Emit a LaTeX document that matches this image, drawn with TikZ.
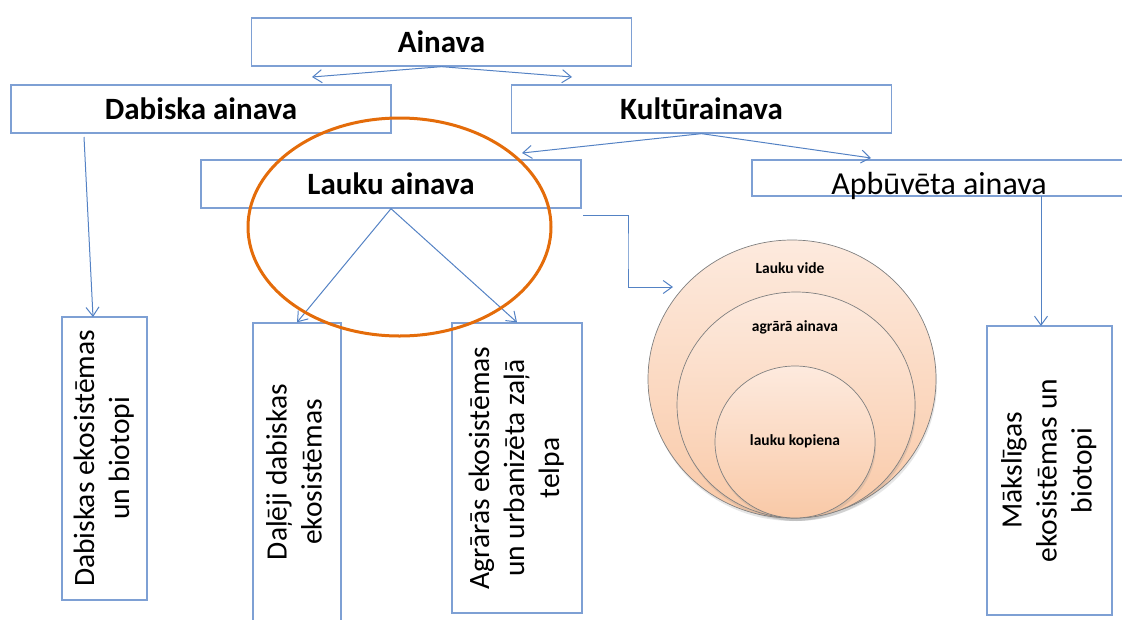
\documentclass[tikz,border=0pt]{standalone}
\usepackage{fontspec}
\setmainfont{Carlito}
\usepackage{graphicx}
\usetikzlibrary{arrows.meta,shapes.geometric,shadows,calc}
\definecolor{boxblue}{RGB}{126,160,212}
\definecolor{lineblue}{RGB}{84,130,196}
\definecolor{ringorange}{RGB}{228,108,10}
\definecolor{peachtop}{RGB}{253,234,222}
\definecolor{peachbottom}{RGB}{249,201,167}
\newcommand{\vtext}[1]{\rotatebox{90}{\begin{tabular}{@{}c@{}}#1\end{tabular}}}

\begin{document}
\begin{tikzpicture}[x=1pt,y=-1pt]
    \tikzset{hbox/.style = {draw=boxblue, fill=white, line width=1.3pt, minimum width=380pt, minimum height=48pt, inner sep=0pt, font=\fontsize{31}{36}\selectfont\bfseries}}
    \tikzset{vbox/.style = {draw=boxblue, line width=1.3pt, inner sep=0pt, font=\fontsize{29.5}{35}\selectfont}}
    \tikzset{arr/.style = {draw=lineblue, line width=1pt, -{Straight Barb[length=9pt,width=13pt]}}}
    \tikzset{ring/.style = {ellipse, draw=gray, line width=0.7pt, inner sep=0pt, top color=peachtop, bottom color=peachbottom, drop shadow={opacity=0.2, shadow xshift=1pt, shadow yshift=-3pt}}}
    \tikzset{ringtext/.style = {font=\fontsize{15.5}{18}\selectfont\bfseries}}
    \useasboundingbox (0,0) rectangle (1122,619);
    % boxes on top
    \node[hbox] (ain) at (441.5,42) {Ainava};
    \node[hbox] (dab) at (201,109) {Dabiska ainava};
    \node[hbox] (kult) at (701.5,109) {Kultūrainava};
    \node[hbox] (lauku) at (391,184) {Lauku ainava};
    \node[draw=boxblue, line width=1.3pt, minimum width=374pt, minimum height=36pt, inner sep=0pt] (apb) at (939,178) {};
    \node[font=\fontsize{32}{36}\selectfont] (apbtxt) at (939,186) {Apbūvēta ainava};
    % boxes at the bottom
    \node[vbox, minimum width=85pt, minimum height=283pt] (b1) at (104.5,458.5) {\vtext{Dabiskas ekosistēmas\\un biotopi}};
    \node[vbox, minimum width=88pt, minimum height=298pt] (b2) at (297,472) {\vtext{Daļēji dabiskas\\ekosistēmas}};
    \node[vbox, minimum width=130pt, minimum height=290pt] (b3) at (517,468) {\vtext{Agrārās ekosistēmas\\un urbanizēta zaļā\\telpa}};
    \node[vbox, minimum width=125pt, minimum height=289pt] (b4) at (1049.5,470.5) {\vtext{Mākslīgas\\ekosistēmas un\\biotopi}};
    % rings
    \node[ring, minimum width=288pt, minimum height=278pt] (vide) at (792,379) {};
    \node[ring, minimum width=238pt, minimum height=226pt] (agrara) at (796,405) {};
    \node[ring, minimum width=160pt, minimum height=152pt] (kopiena) at (795,442) {};
    \node[ringtext] (videtxt) at (790,268) {Lauku vide};
    \node[ringtext] (agraratxt) at (795,327) {agrārā ainava};
    \node[ringtext] (kopienatxt) at (795,441) {lauku kopiena};
    % free ends of the arrows
    \coordinate (a1) at (312,77);
    \coordinate (a2) at (572,77);
    \coordinate (k1) at (522,153);
    \coordinate (k2) at (871,158);
    \coordinate (d0) at (84,137);
    \coordinate (d1) at (93,317);
    \coordinate (e0) at (583,215);
    \coordinate (e1) at (673,287);
    \coordinate (p0) at (1041,196);
    \coordinate (p1) at (1041,326);
    % arrows
    \draw[arr] (ain.south) -- (a1);
    \draw[arr] (ain.south) -- (a2);
    \draw[arr] (kult.south) -- (k1);
    \draw[arr] (kult.south) -- (k2);
    \draw[arr] (d0) -- (d1);
    \draw[arr] (lauku.south) -- (b2.north);
    \draw[arr] (lauku.south) -- (b3.north);
    \draw[arr] (e0) -| ($(e0)!0.5!(e1)$) |- (e1);
    \draw[arr] (p0) -- (p1);
    % orange ring round Lauku ainava
    \draw[ringorange, line width=3pt] (399.5,227) ellipse [x radius=151.5, y radius=109];
\end{tikzpicture}
\end{document}
